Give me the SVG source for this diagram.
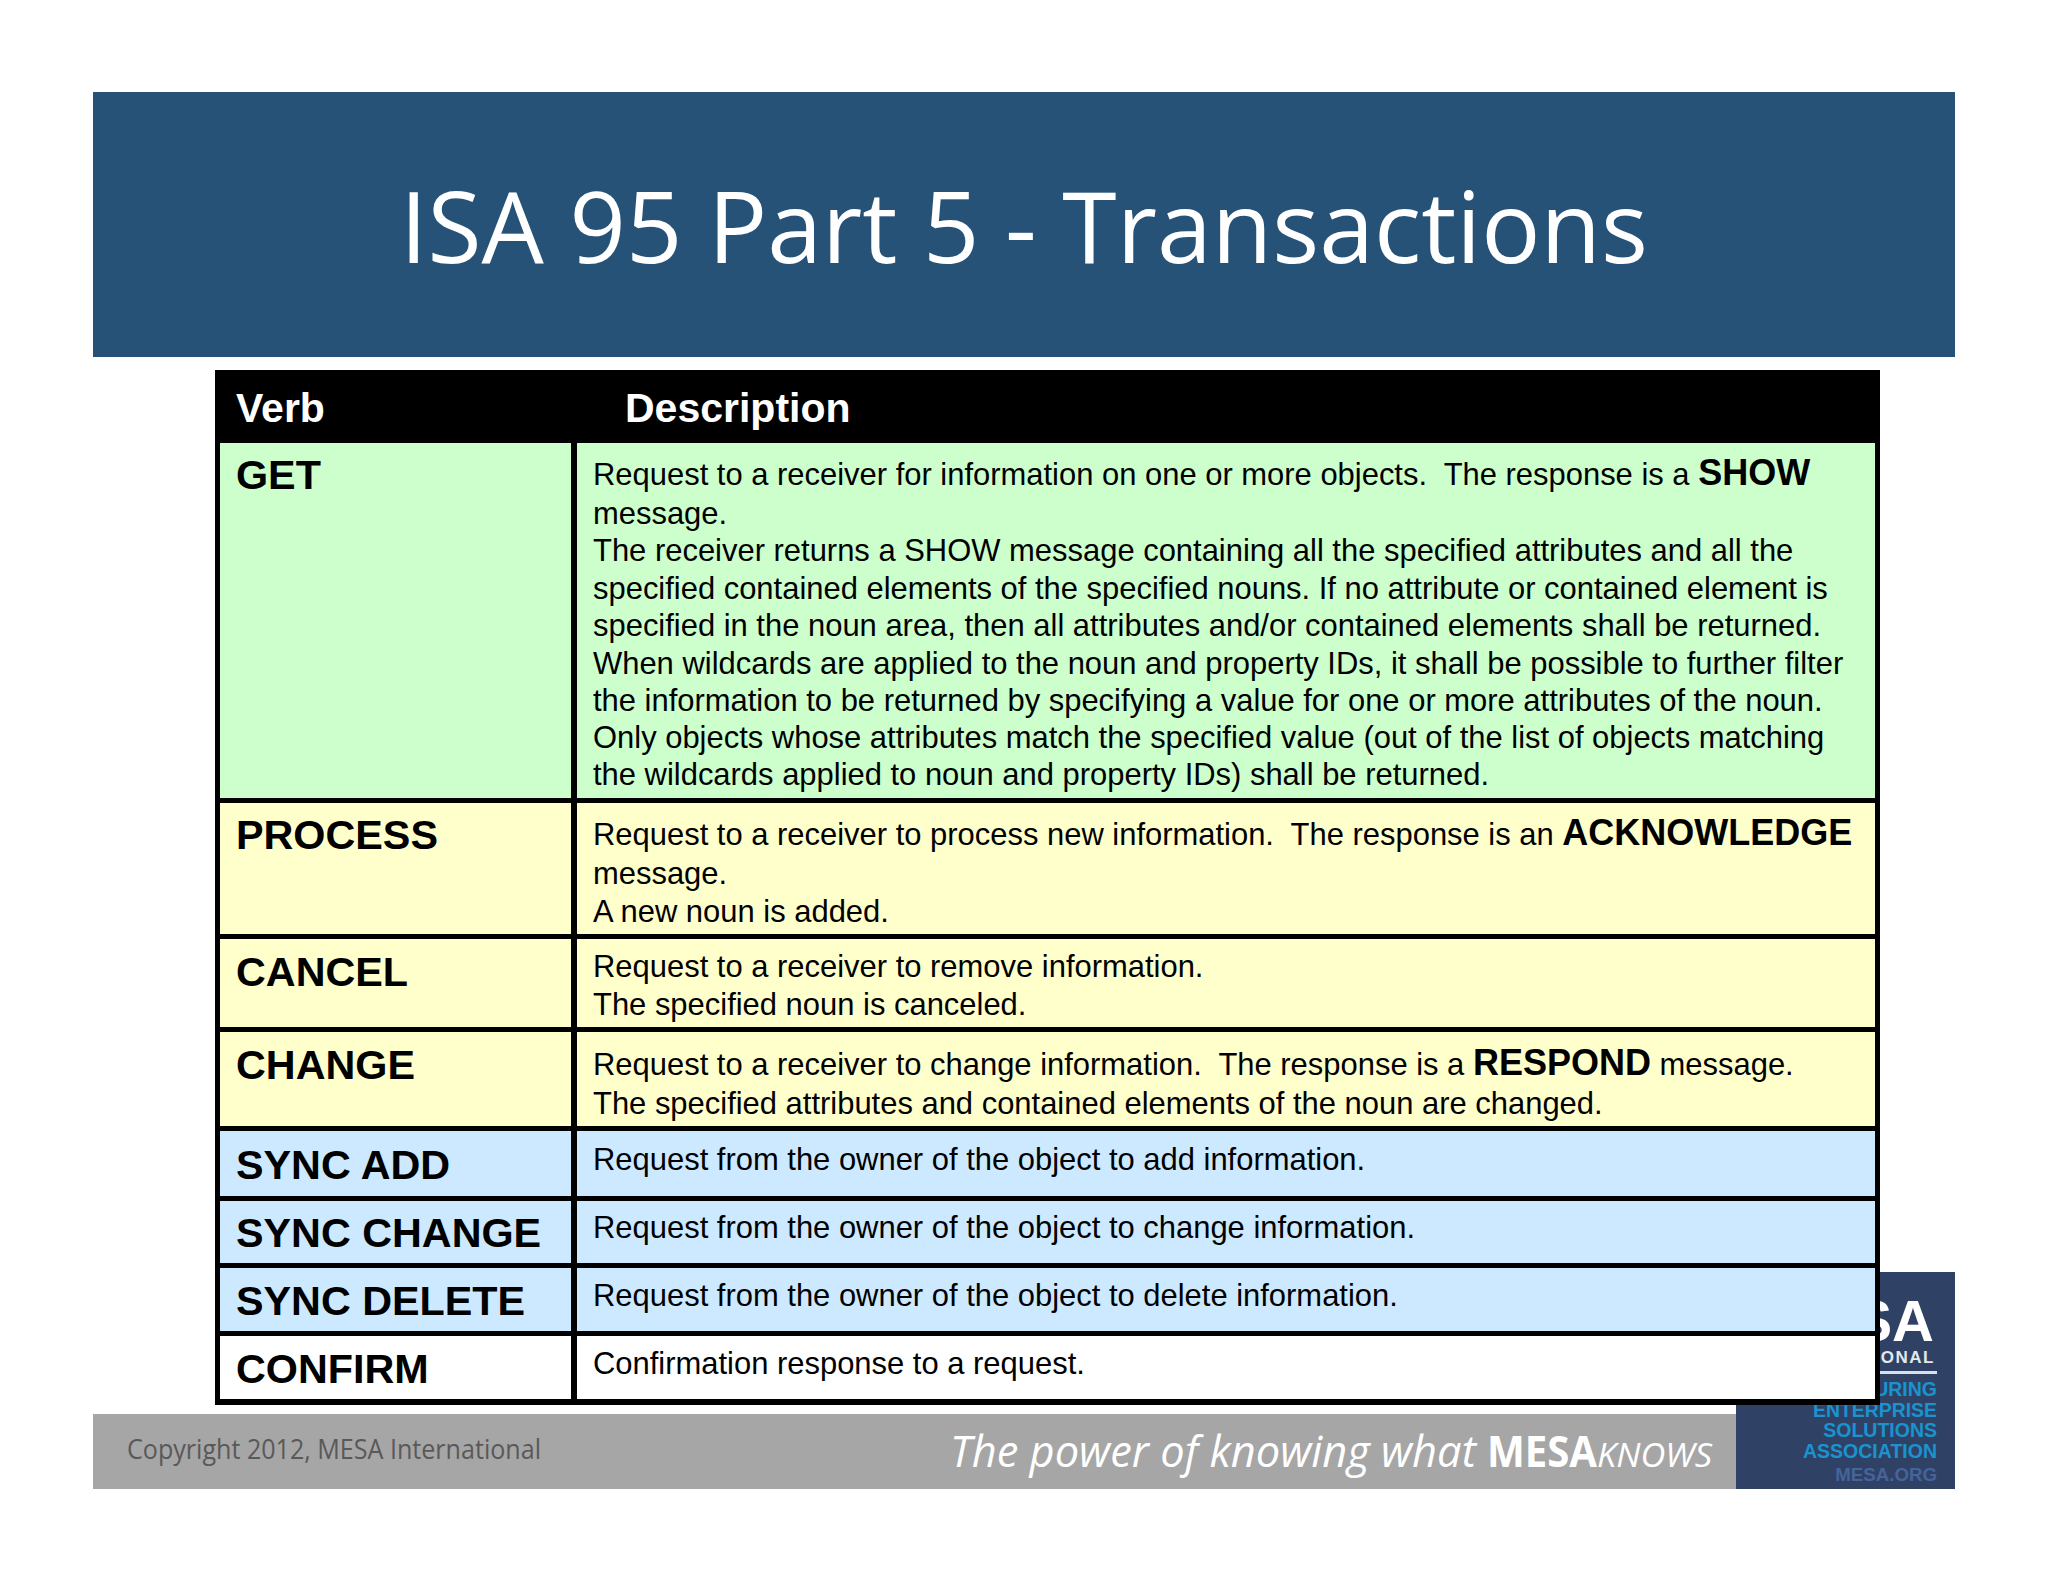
<svg xmlns="http://www.w3.org/2000/svg" width="2048" height="1582" viewBox="0 0 2048 1582">
<style>
.v{font:bold 41.3px "Liberation Sans",Arial,sans-serif;fill:#000}
.h{font:bold 41px "Liberation Sans",Arial,sans-serif;fill:#fff}
.d{font:30.95px "Liberation Sans",Arial,sans-serif;fill:#000;white-space:pre}
.b{font-weight:bold;font-size:36px}
.l{font-family:"Liberation Sans",Arial,sans-serif;font-weight:bold;text-anchor:end}
.c{fill:#1a93cf;font-size:19.5px}
.f{font-family:"Open Sans",sans-serif}
.g{fill:#ccffcc}.y{fill:#ffffcc}.s{fill:#cce9ff}.w{fill:#fff}
</style>
<rect width="2048" height="1582" fill="#fff"/>
<g id="header"><rect x="93" y="92" width="1862" height="265" fill="#265278"/>
<text class="f" x="400" y="263" font-size="98" fill="#fff" textLength="1248" lengthAdjust="spacingAndGlyphs">ISA 95 Part 5 - Transactions</text></g>
<g id="footer"><rect x="93" y="1414" width="1643" height="75" fill="#a6a6a6"/>
<text class="f" x="127" y="1459" font-size="27" fill="#595959" textLength="414" lengthAdjust="spacingAndGlyphs">Copyright 2012, MESA International</text>
<text class="f" x="950" y="1467" font-size="43" font-style="italic" fill="#fff" textLength="526" lengthAdjust="spacingAndGlyphs">The power of knowing what</text>
<text class="f" x="1487" y="1467" font-size="43" font-weight="bold" fill="#fff" textLength="110" lengthAdjust="spacingAndGlyphs">MESA</text>
<text class="f" x="1597" y="1467" font-size="33" font-style="italic" fill="#fff" textLength="115" lengthAdjust="spacingAndGlyphs">KNOWS</text></g>
<g id="logo"><rect x="1736" y="1272" width="219" height="217" fill="#2f4266"/>
<text class="l" x="1934" y="1341" font-size="58" fill="#fff">SA</text>
<text class="l" x="1935" y="1363" font-size="17" fill="#e4e8ee" letter-spacing="1.5">ONAL</text>
<rect x="1880" y="1371" width="57" height="3" fill="#d9dfe8"/>
<text class="l c" x="1937" y="1396">URING</text>
<text class="l c" x="1937" y="1417" textLength="124" lengthAdjust="spacingAndGlyphs">ENTERPRISE</text>
<text class="l c" x="1937" y="1437">SOLUTIONS</text>
<text class="l c" x="1937" y="1458">ASSOCIATION</text>
<text class="l" x="1937" y="1481" font-size="18.7" fill="#46639a">MESA.ORG</text></g>
<g id="table">
<rect x="215" y="370" width="1665" height="1035" fill="#000"/>
<g id="row-head"><text class="h" x="236" y="422">Verb</text><text class="h" x="625" y="422">Description</text></g>
<g id="row-get"><rect class="g" x="220" y="443" width="351" height="355"/><rect class="g" x="577" y="443" width="1298" height="355"/>
<text class="v" x="236" y="489">GET</text>
<text class="d" x="593" y="485">Request to a receiver for information on one or more objects.  The response is a <tspan class="b">SHOW</tspan></text>
<text class="d" x="593" y="524">message.</text>
<text class="d" x="593" y="561">The receiver returns a SHOW message containing all the specified attributes and all the</text>
<text class="d" x="593" y="599">specified contained elements of the specified nouns. If no attribute or contained element is</text>
<text class="d" x="593" y="636">specified in the noun area, then all attributes and/or contained elements shall be returned.</text>
<text class="d" x="593" y="674">When wildcards are applied to the noun and property IDs, it shall be possible to further filter</text>
<text class="d" x="593" y="711">the information to be returned by specifying a value for one or more attributes of the noun.</text>
<text class="d" x="593" y="748">Only objects whose attributes match the specified value (out of the list of objects matching</text>
<text class="d" x="593" y="785">the wildcards applied to noun and property IDs) shall be returned.</text></g>
<g id="row-process"><rect class="y" x="220" y="803" width="351" height="131"/><rect class="y" x="577" y="803" width="1298" height="131"/>
<text class="v" x="236" y="849">PROCESS</text>
<text class="d" x="593" y="845">Request to a receiver to process new information.  The response is an <tspan class="b">ACKNOWLEDGE</tspan></text>
<text class="d" x="593" y="884">message.</text>
<text class="d" x="593" y="922">A new noun is added.</text></g>
<g id="row-cancel"><rect class="y" x="220" y="939" width="351" height="88"/><rect class="y" x="577" y="939" width="1298" height="88"/>
<text class="v" x="236" y="986">CANCEL</text>
<text class="d" x="593" y="977">Request to a receiver to remove information.</text>
<text class="d" x="593" y="1015">The specified noun is canceled.</text></g>
<g id="row-change"><rect class="y" x="220" y="1032" width="351" height="94"/><rect class="y" x="577" y="1032" width="1298" height="94"/>
<text class="v" x="236" y="1079">CHANGE</text>
<text class="d" x="593" y="1075">Request to a receiver to change information.  The response is a <tspan class="b">RESPOND</tspan> message.</text>
<text class="d" x="593" y="1114">The specified attributes and contained elements of the noun are changed.</text></g>
<g id="row-sync-add"><rect class="s" x="220" y="1131" width="351" height="65"/><rect class="s" x="577" y="1131" width="1298" height="65"/>
<text class="v" x="236" y="1179">SYNC ADD</text>
<text class="d" x="593" y="1170">Request from the owner of the object to add information.</text></g>
<g id="row-sync-change"><rect class="s" x="220" y="1201" width="351" height="62"/><rect class="s" x="577" y="1201" width="1298" height="62"/>
<text class="v" x="236" y="1247">SYNC CHANGE</text>
<text class="d" x="593" y="1238">Request from the owner of the object to change information.</text></g>
<g id="row-sync-delete"><rect class="s" x="220" y="1268" width="351" height="63"/><rect class="s" x="577" y="1268" width="1298" height="63"/>
<text class="v" x="236" y="1315">SYNC DELETE</text>
<text class="d" x="593" y="1306">Request from the owner of the object to delete information.</text></g>
<g id="row-confirm"><rect class="w" x="220" y="1336" width="351" height="63"/><rect class="w" x="577" y="1336" width="1298" height="63"/>
<text class="v" x="236" y="1383">CONFIRM</text>
<text class="d" x="593" y="1374">Confirmation response to a request.</text></g>
</g>
<g id="connectors"/>
</svg>
